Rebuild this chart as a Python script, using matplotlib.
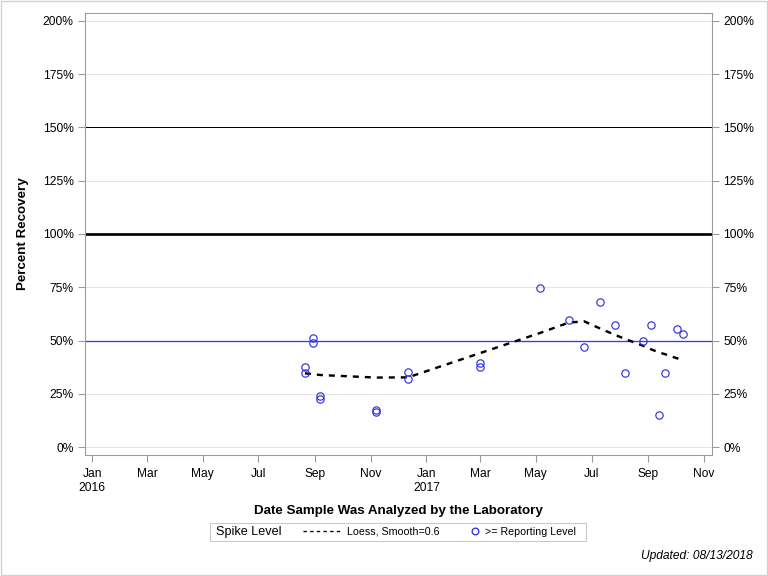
import datetime as dt
import matplotlib
matplotlib.use("Agg")
import matplotlib.pyplot as plt
from matplotlib.lines import Line2D
from matplotlib.patches import Rectangle

plt.rcParams['font.family'] = ['Liberation Sans', 'DejaVu Sans']

# Observed spike recoveries (percent)
sample_dates = ["2016-08-21", "2016-08-21", "2016-08-30", "2016-08-30",
                "2016-09-07", "2016-09-07", "2016-11-07", "2016-11-07",
                "2016-12-12", "2016-12-12", "2017-03-01", "2017-03-01",
                "2017-05-06", "2017-06-06", "2017-06-23", "2017-07-10",
                "2017-07-27", "2017-08-07", "2017-08-26", "2017-09-04",
                "2017-09-13", "2017-09-20", "2017-10-03", "2017-10-09"]
recovery = [37.7, 34.9, 51.0, 48.7,
            23.9, 22.7, 17.2, 16.5,
            35.4, 31.8, 39.4, 37.6,
            74.5, 59.6, 46.8, 67.9,
            57.1, 34.6, 49.6, 57.1,
            14.9, 34.6, 55.3, 52.9]

# Loess fit
loess_dates = ["2016-08-21", "2016-08-30", "2016-09-07", "2016-11-07",
               "2016-12-12", "2017-03-01", "2017-05-06", "2017-06-06",
               "2017-06-23", "2017-07-10", "2017-07-27", "2017-08-07",
               "2017-08-26", "2017-09-04", "2017-09-13", "2017-09-20",
               "2017-10-03", "2017-10-09"]
loess_fit = [34.6, 34.2, 33.8, 32.6,
             32.7, 44.1, 53.6, 58.4,
             59.0, 55.7, 52.6, 50.7,
             47.6, 45.9, 44.4, 43.5,
             41.6, 40.8]

y_ticks = [0, 25, 50, 75, 100, 125, 150, 175, 200]
tick_dates = ["2016-01-01", "2016-03-01", "2016-05-01", "2016-07-01",
              "2016-09-01", "2016-11-01", "2017-01-01", "2017-03-01",
              "2017-05-01", "2017-07-01", "2017-09-01", "2017-11-01"]
tick_labels = ["Jan\n2016", "Mar", "May", "Jul", "Sep", "Nov",
               "Jan\n2017", "Mar", "May", "Jul", "Sep", "Nov"]

to_date = lambda s: dt.datetime.strptime(s, "%Y-%m-%d")
sample_x = [to_date(d) for d in sample_dates]
loess_x = [to_date(d) for d in loess_dates]
tick_x = [to_date(d) for d in tick_dates]

fig = plt.figure(figsize=(8, 6), dpi=96)
ax = fig.add_axes([85 / 768, 1 - 455 / 576, 627 / 768, 442 / 576])

gray = '#9a9a9a'
blue = '#3434dc'

for t in y_ticks:
    ax.axhline(t, color='#e3e3e3', lw=0.75, zorder=0)
ax.axhline(150, color='black', lw=0.75, zorder=1)
ax.axhline(100, color='black', lw=2.0, zorder=1)
ax.axhline(50, color='#3a3af0', lw=1.0, zorder=2)

ax.plot(loess_x, loess_fit, color='black', lw=1.8, ls=(0, (2.5, 2.5)), zorder=3)
ax.plot(sample_x, recovery, ls='none', marker='o', ms=5.5, mfc='none',
        mec=blue, mew=0.9, zorder=4)

ax.set_xlim(to_date("2015-12-24"), to_date("2017-11-10"))
ax.set_ylim(-3.75, 203.75)
ax.set_yticks(y_ticks)
ax.set_yticklabels([f"{t}%" for t in y_ticks])
ax.set_xticks(tick_x)
ax.set_xticklabels(tick_labels)

ax.tick_params(axis='both', colors=gray, labelcolor='black', labelsize=9,
               length=5, width=0.8)
ax.tick_params(axis='x', pad=5)
ax.tick_params(axis='y', right=True, labelright=True)
for s in ax.spines.values():
    s.set_color(gray)
    s.set_linewidth(0.8)

ax.set_xlabel("Date Sample Was Analyzed by the Laboratory", fontsize=10,
              fontweight='bold', labelpad=8)
ax.set_ylabel("Percent Recovery", fontsize=10, fontweight='bold', labelpad=10)

# legend box
fig.patches.append(Rectangle((210 / 768, 1 - 541 / 576), 376 / 768, 18 / 576,
                             transform=fig.transFigure, fill=False,
                             ec='#c8c8c8', lw=0.8))
fig.text(216 / 768, 1 - 532 / 576, "Spike Level", fontsize=9.5, va='center')
fig.legend([Line2D([], [], color='black', lw=1, ls=(0, (2.5, 2.5)))],
           ["Loess, Smooth=0.6"], frameon=False, fontsize=8,
           loc='center left', bbox_to_anchor=(303 / 768, 1 - 532 / 576),
           handlelength=3.6, handletextpad=0.5, borderpad=0, borderaxespad=0)
fig.legend([Line2D([], [], ls='none', marker='o', ms=5, mfc='none', mec=blue)],
           [">= Reporting Level"], frameon=False, fontsize=8,
           loc='center left', bbox_to_anchor=(470 / 768, 1 - 532 / 576),
           handlelength=1.0, handletextpad=0.4, borderpad=0, borderaxespad=0)

fig.text(753 / 768, 1 - 556 / 576, "Updated: 08/13/2018", fontsize=9,
         style='italic', ha='right', va='center')

fig.patches.append(Rectangle((0.001, 0.001), 0.998, 0.998,
                             transform=fig.transFigure, fill=False,
                             ec='#d0d0d0', lw=1))

fig.savefig("out.png", dpi=96)
